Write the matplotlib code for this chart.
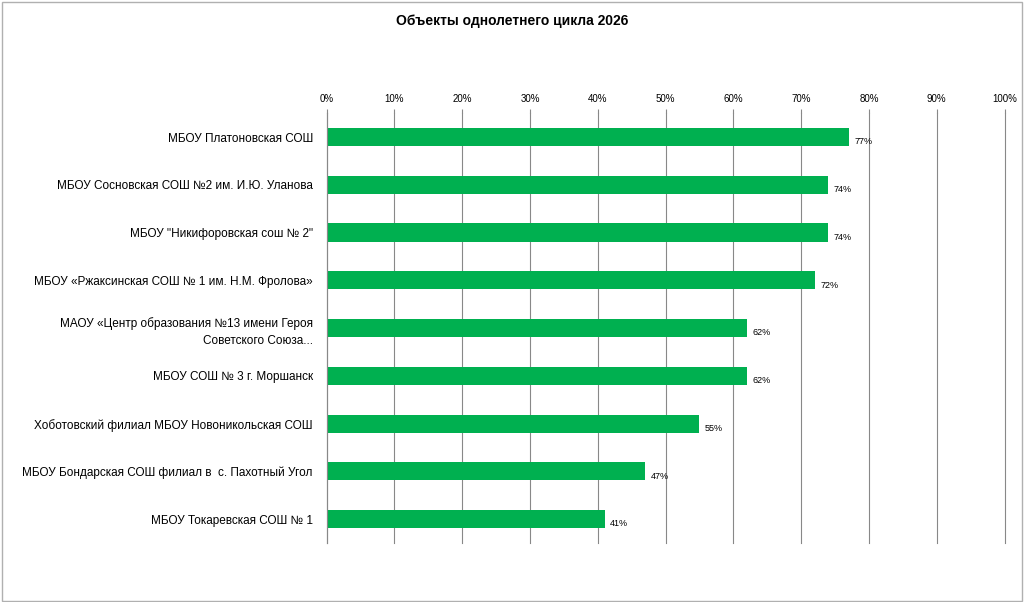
import matplotlib.pyplot as plt
from matplotlib.patches import Rectangle

plt.rcParams['font.family'] = ['Liberation Sans', 'DejaVu Sans']

# Данные
schools = [
    "МБОУ Платоновская СОШ",
    "МБОУ Сосновская СОШ №2 им. И.Ю. Уланова",
    "МБОУ \"Никифоровская сош № 2\"",
    "МБОУ «Ржаксинская СОШ № 1 им. Н.М. Фролова»",
    "МАОУ «Центр образования №13 имени Героя\nСоветского Союза...",
    "МБОУ СОШ № 3 г. Моршанск",
    "Хоботовский филиал МБОУ Новоникольская СОШ",
    "МБОУ Бондарская СОШ филиал в  с. Пахотный Угол",
    "МБОУ Токаревская СОШ № 1",
]
values = [77, 74, 74, 72, 62, 62, 55, 47, 41]

fig = plt.figure(figsize=(10.24, 6.02), dpi=100)
fig.patches.append(Rectangle((0.002, 0.002), 0.996, 0.995, transform=fig.transFigure,
                             fill=False, edgecolor="#b0b0b0", linewidth=1))
ax = fig.add_axes([0.319, 0.098, 0.662, 0.714])

pos = list(range(len(schools)))
ax.barh(pos, values, height=0.38, color="#00B050")
for y, v in zip(pos, values):
    ax.text(v + 0.8, y + 0.1, f"{v}%", va="center", fontsize=6.5)

ax.set_xlim(0, 100)
ax.set_ylim(len(schools) - 0.5, -0.5)
ax.set_xticks(range(0, 101, 10))
ax.set_xticklabels([f"{x}%" for x in range(0, 101, 10)], fontsize=7)
ax.xaxis.tick_top()
ax.set_yticks(pos)
ax.set_yticklabels(schools, fontsize=8.5, linespacing=1.6)
ax.tick_params(axis="y", length=0, pad=10)
ax.tick_params(axis="x", length=3, color="#888888")
ax.grid(axis="x", color="#888888", linewidth=0.8, clip_on=False)
for gl in ax.get_xgridlines():
    gl.set_clip_on(False)
ax.set_axisbelow(True)
for s in ["right", "bottom", "top"]:
    ax.spines[s].set_visible(False)
ax.spines["left"].set_color("#888888")

fig.text(0.5, 0.965, "Объекты однолетнего цикла 2026", ha="center", va="center",
         fontsize=10, fontweight="bold")

fig.savefig("out.png", dpi=100)
